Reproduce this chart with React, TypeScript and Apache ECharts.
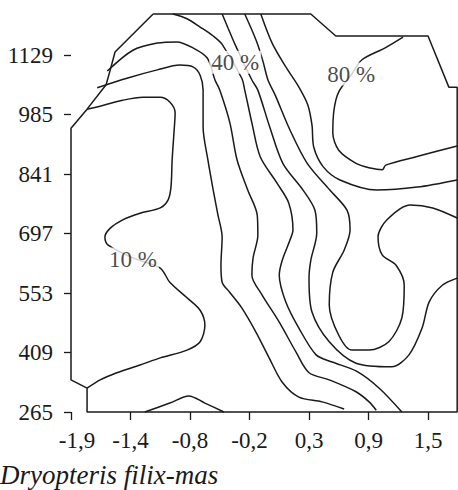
import { useEffect, useRef } from 'react';
import * as echarts from 'echarts';

// Tick labels (axes are in "tick units": tick k sits at value k)
const xTickLabels = ['-1,9', '-1,4', '-0,8', '-0,2', '0,3', '0,9', '1,5'];
const yTickLabels = ['265', '409', '553', '697', '841', '985', '1129'];
const tickValues = [0, 1, 2, 3, 4, 5, 6];

// Outline of the sampled domain, in tick units
const domainOutline: number[][] = [
  [1.38, 6.69], [4.03, 6.69], [4.45, 6.32], [6.0, 6.32], [6.35, 5.46], [6.49, 5.46],
  [6.49, 0], [0.27, 0], [0.27, 0.4], [0, 0.54], [0, 4.77], [0.27, 5.09],
  [0.59, 5.5], [0.66, 5.75], [0.74, 6.05], [1.38, 6.69],
];

// Contour isolines, in tick units
const contour10: number[][] = [
  [0.27, 5.09], [0.49, 5.14], [0.87, 5.24], [1.21, 5.29], [1.5, 5.29], [1.66, 5.21],
  [1.75, 5.03], [1.73, 4.69], [1.7, 4.24], [1.68, 3.78], [1.63, 3.56], [1.5, 3.43],
  [1.16, 3.34], [0.87, 3.23], [0.66, 3.09], [0.57, 2.94], [0.62, 2.81], [1.04, 2.59],
  [1.5, 2.42], [1.66, 2.18], [1.95, 1.92], [2.17, 1.71], [2.25, 1.46], [2.17, 1.18],
  [1.95, 1.04], [1.5, 0.91], [1.16, 0.79], [0.77, 0.66], [0.49, 0.54], [0.27, 0.4],
];
const contour10Bottom: number[][] = [
  [1.24, 0], [1.66, 0.15], [1.98, 0.27], [2.25, 0.15], [2.57, 0],
];
const contour20: number[][] = [
  [0.44, 5.45], [0.94, 5.61], [1.45, 5.75], [1.83, 5.83], [2.05, 5.8], [2.17, 5.66],
  [2.22, 5.41], [2.22, 4.79], [2.3, 4.24], [2.39, 3.73], [2.47, 3.31], [2.54, 2.94],
  [2.52, 2.47], [2.54, 2.18], [2.66, 2.02], [2.87, 1.75], [3.11, 1.34], [3.33, 0.91],
  [3.55, 0.5], [3.83, 0.25], [4.22, 0.17], [4.59, 0.05],
];
const contour30: number[][] = [
  [0.61, 5.73], [1.04, 6.08], [1.45, 6.2], [1.78, 6.22], [2.05, 6.12], [2.29, 5.95],
  [2.42, 5.58], [2.5, 5.41], [2.67, 4.86], [2.79, 4.24], [2.97, 3.73], [3.13, 3.31],
  [3.14, 2.97], [3.06, 2.59], [3.04, 2.3], [3.21, 1.97], [3.5, 1.51], [3.78, 1.01],
  [4.0, 0.66], [4.34, 0.54], [4.79, 0.34], [5.01, 0.17], [5.13, 0.03],
];
const contour40: number[][] = [
  [1.71, 6.69], [1.95, 6.61], [2.17, 6.47], [2.39, 6.32], [2.54, 6.18], [2.87, 5.61],
  [2.92, 5.41], [3.04, 4.86], [3.18, 4.29], [3.46, 3.85], [3.66, 3.51], [3.73, 3.06],
  [3.68, 2.89], [3.55, 2.55], [3.5, 2.3], [3.61, 1.85], [3.83, 1.41], [4.12, 0.96],
  [4.39, 0.84], [4.79, 0.69], [5.18, 0.4], [5.56, 0],
];
const contour50: number[][] = [
  [2.54, 6.69], [2.64, 6.45], [2.76, 6.17], [3.04, 5.58], [3.14, 5.41], [3.34, 4.79],
  [3.56, 4.18], [3.9, 3.73], [4.1, 3.39], [4.13, 3.01], [4.03, 2.55], [4.0, 2.25],
  [4.05, 1.68], [4.34, 1.18], [4.79, 0.82], [5.39, 0.76], [5.68, 0.96], [5.9, 1.41],
  [6.02, 1.85], [6.24, 2.13], [6.49, 2.25],
];
const contour60: number[][] = [
  [2.92, 6.69], [3.04, 6.42], [3.14, 6.17], [3.23, 5.88], [3.31, 5.58], [3.43, 5.33],
  [3.68, 4.74], [3.97, 4.18], [4.35, 3.73], [4.64, 3.39], [4.69, 3.06], [4.59, 2.72],
  [4.4, 2.35], [4.34, 1.8], [4.5, 1.29], [4.72, 1.04], [5.01, 1.04], [5.34, 1.18],
  [5.56, 1.58], [5.6, 2.13], [5.46, 2.47], [5.23, 2.64], [5.16, 2.94], [5.31, 3.23],
  [5.7, 3.48], [6.08, 3.43], [6.49, 3.26],
];
const contour70: number[][] = [
  [3.19, 6.69], [3.38, 6.2], [3.61, 5.8], [3.83, 5.46], [3.98, 5.16], [4.05, 4.82],
  [4.08, 4.45], [4.24, 4.12], [4.52, 3.9], [5.14, 3.73], [5.82, 3.78], [6.49, 3.9],
];
const contour80: number[][] = [
  [5.58, 6.3], [5.28, 6.12], [4.89, 5.92], [4.72, 5.68], [4.5, 5.38], [4.42, 5.08],
  [4.4, 4.69], [4.5, 4.4], [4.79, 4.18], [5.03, 4.1], [5.23, 4.07], [5.29, 4.15],
  [5.8, 4.29], [6.49, 4.47],
];

const contourLabelTexts = ['10 %', '40 %', '80 %'];
const contourLabelPositions: number[][] = [[1.04, 2.57], [2.76, 5.88], [4.71, 5.68]];

const titleText = 'Dryopteris filix-mas';

const FONT = '"Liberation Serif", "Times New Roman", serif';
const INK = '#1a1a1a';

export default function App() {
  const ref = useRef<HTMLDivElement>(null);

  useEffect(() => {
    const chart = echarts.init(ref.current!, null, { renderer: 'svg' });
    const contours = [
      contour10, contour10Bottom, contour20, contour30, contour40,
      contour50, contour60, contour70, contour80,
    ];
    const lineSeries = contours.map((data) => ({
      type: 'line',
      data,
      symbol: 'none',
      smooth: 0.3,
      clip: false,
      silent: true,
      z: 2,
      lineStyle: { color: INK, width: 1.5 },
    }));

    chart.setOption({
      animation: false,
      title: {
        text: titleText,
        left: 0,
        top: 461,
        padding: 0,
        textStyle: {
          fontFamily: FONT,
          fontStyle: 'italic',
          fontWeight: 'normal',
          fontSize: 27,
          color: INK,
        },
      },
      grid: { left: 71, top: 13, width: 386, height: 399 },
      xAxis: {
        type: 'value',
        min: 0,
        max: 6.487,
        interval: 1,
        axisLine: { show: false },
        splitLine: { show: false },
        axisTick: {
          show: true,
          length: 8,
          customValues: tickValues,
          lineStyle: { color: INK, width: 1.3 },
        },
        axisLabel: {
          customValues: tickValues,
          formatter: (v: number) => {
            const i = Math.round(v);
            const t = xTickLabels[i] ?? '';
            return i === 0 ? `{first|${t}}` : t;
          },
          rich: {
            first: { padding: [0, 0, 0, 12], fontFamily: FONT, fontSize: 23, color: INK },
          },
          fontFamily: FONT,
          fontSize: 23,
          color: INK,
          margin: 17,
        },
      },
      yAxis: {
        type: 'value',
        min: 0,
        max: 6.706,
        interval: 1,
        axisLine: { show: false },
        splitLine: { show: false },
        axisTick: {
          show: true,
          length: 7,
          customValues: tickValues,
          lineStyle: { color: INK, width: 1.3 },
        },
        axisLabel: {
          customValues: tickValues,
          formatter: (v: number) => yTickLabels[Math.round(v)] ?? '',
          fontFamily: FONT,
          fontSize: 23,
          color: INK,
          margin: 18,
        },
      },
      series: [
        {
          type: 'line',
          data: domainOutline,
          symbol: 'none',
          clip: false,
          silent: true,
          z: 2,
          lineStyle: { color: INK, width: 1.5 },
        },
        ...lineSeries,
        {
          type: 'scatter',
          data: contourLabelPositions.map((p, i) => ({ value: p, name: contourLabelTexts[i] })),
          symbolSize: 0,
          silent: true,
          z: 10,
          label: {
            show: true,
            position: 'inside',
            formatter: (p: any) => p.name,
            fontFamily: FONT,
            fontSize: 23,
            color: INK,
            backgroundColor: '#ffffff',
            padding: [0, 2],
          },
        },
      ],
    });
    return () => chart.dispose();
  }, []);

  return (
    <div
      ref={ref}
      style={{ position: 'absolute', left: 0, top: 0, width: 458, height: 490, background: '#fff' }}
    />
  );
}
